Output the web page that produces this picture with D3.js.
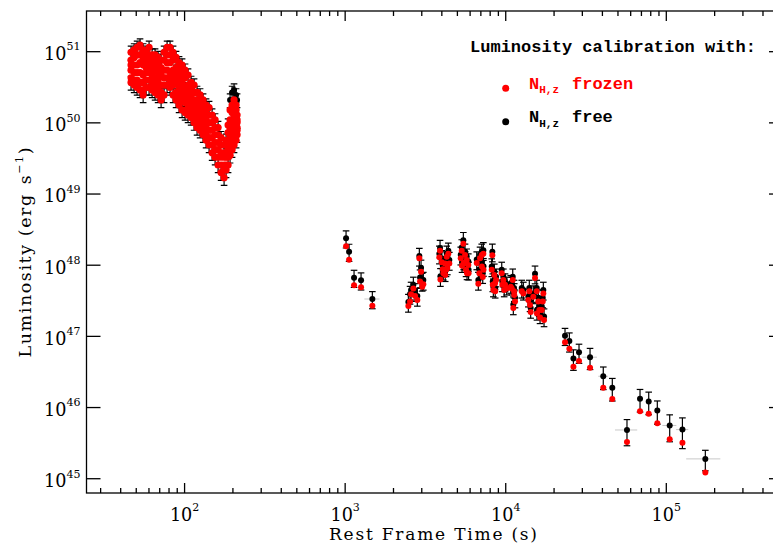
<!DOCTYPE html>
<html>
<head>
<meta charset="utf-8">
<script src="https://cdn.jsdelivr.net/npm/d3@7"></script>
<style>
  body { margin: 0; background: #fff; }
  svg { display: block; }
</style>
</head>
<body>
<svg id="chart" width="773" height="547"></svg>
<script>
// ---- data ----
// early steep decay + flare (one time per column, several luminosities)
const earlyTime = [46.4, 48.5, 50.6, 52.8, 55.2, 57.6, 60.1, 62.8, 65.5, 68.4, 71.4, 74.5, 77.8, 81.2, 84.8,
  88.5, 92.4, 96.5, 100.7, 105.1, 109.8, 114.6, 119.6, 124.9, 130.4, 136.1, 142.1, 148.4, 154.9, 161.7,
  168.8, 176.2, 181.3, 186.6, 192.0, 197.6, 203.3, 209.3, 212.3]
const earlyFrozen = [
  [9.8e50, 7.6e50, 6.5e50, 5.5e50, 4.3e50, 3.7e50],
  [1.06e51, 8.3e50, 6.5e50, 5.1e50, 4.0e50, 3.4e50],
  [1.15e51, 9.0e50, 6.5e50, 5.1e50, 4.0e50, 3.14e50],
  [1.24e51, 9.0e50, 7.0e50, 5.1e50, 3.7e50, 2.9e50],
  [1.06e51, 8.3e50, 6.5e50, 4.7e50, 3.7e50, 2.9e50, 2.47e50],
  [9.8e50, 7.6e50, 6.0e50, 5.1e50, 4.0e50, 3.14e50],
  [1.15e51, 9.0e50, 6.5e50, 5.1e50, 4.0e50, 3.14e50],
  [9.0e50, 7.6e50, 6.0e50, 4.7e50, 3.7e50, 2.9e50],
  [9.0e50, 7.0e50, 5.5e50, 4.3e50, 3.4e50, 2.68e50],
  [8.3e50, 6.5e50, 5.1e50, 4.0e50, 3.14e50, 2.47e50],
  [7.6e50, 6.0e50, 4.7e50, 3.4e50, 2.68e50, 2.1e50],
  [9.8e50, 7.6e50, 5.5e50, 4.3e50, 3.4e50, 2.47e50],
  [1.15e51, 9.0e50, 7.0e50, 5.5e50, 4.3e50, 3.4e50],
  [1.15e51, 9.0e50, 7.0e50, 5.1e50, 4.0e50, 3.14e50],
  [9.8e50, 7.6e50, 5.5e50, 4.3e50, 3.4e50, 2.47e50],
  [8.3e50, 6.0e50, 4.7e50, 3.7e50, 2.68e50, 2.1e50],
  [7.0e50, 5.5e50, 4.0e50, 3.14e50, 2.28e50, 1.78e50],
  [6.5e50, 4.7e50, 3.7e50, 2.68e50, 2.1e50, 1.52e50],
  [5.5e50, 4.3e50, 3.14e50, 2.47e50, 1.93e50, 1.40e50],
  [4.7e50, 3.4e50, 2.68e50, 2.1e50, 1.64e50, 1.29e50],
  [3.7e50, 2.9e50, 2.28e50, 1.93e50, 1.52e50, 1.19e50],
  [3.4e50, 2.68e50, 2.1e50, 1.64e50, 1.29e50, 1.01e50],
  [2.68e50, 2.1e50, 1.78e50, 1.40e50, 1.10e50, 8.6e49],
  [2.47e50, 1.93e50, 1.52e50, 1.19e50, 1.01e50, 7.9e49],
  [2.1e50, 1.64e50, 1.40e50, 1.10e50, 8.6e49, 6.8e49],
  [1.78e50, 1.52e50, 1.19e50, 9.3e49, 7.3e49, 5.7e49],
  [1.64e50, 1.29e50, 1.01e50, 7.9e49, 6.2e49, 4.9e49],
  [1.29e50, 1.01e50, 7.9e49, 6.2e49, 4.9e49, 3.8e49],
  [1.10e50, 8.6e49, 6.8e49, 5.3e49, 4.2e49, 3.3e49],
  [8.6e49, 6.8e49, 5.3e49, 4.2e49, 3.3e49, 2.56e49],
  [6.2e49, 4.9e49, 3.8e49, 3.3e49, 2.56e49, 2.0e49],
  [4.9e49, 3.8e49, 3.3e49, 2.56e49, 2.18e49, 1.7e49],
  [5.7e49, 4.9e49, 3.8e49, 3.3e49, 2.56e49, 2.18e49],
  [9.3e49, 7.3e49, 5.7e49, 4.2e49, 3.3e49, 2.56e49],
  [1.52e50, 1.10e50, 8.6e49, 6.2e49, 4.9e49, 3.5e49],
  [1.78e50, 1.40e50, 1.01e50, 7.3e49, 5.7e49, 4.2e49],
  [2.1e50, 1.52e50, 1.19e50, 8.6e49, 6.8e49, 4.9e49],
  [1.78e50, 1.52e50, 1.19e50, 9.3e49, 7.3e49, 5.7e49],
  [1.29e50, 1.10e50, 1.01e50, 8.6e49, 7.9e49, 6.8e49]
]
// free-N_H points of the early part: band top and bottom (mostly hidden under the red)
const earlyFree = [
  [9.8e50, 3.7e50], [1.06e51, 3.4e50], [1.15e51, 3.14e50], [1.24e51, 2.9e50],
  [1.06e51, 2.47e50], [9.8e50, 3.14e50], [1.15e51, 3.14e50], [9.0e50, 2.9e50],
  [9.0e50, 2.68e50], [8.3e50, 2.47e50], [7.6e50, 2.1e50], [9.8e50, 2.47e50],
  [1.15e51, 3.4e50], [1.15e51, 3.14e50], [9.8e50, 2.47e50], [8.3e50, 2.1e50],
  [7.0e50, 1.78e50], [6.5e50, 1.52e50], [5.5e50, 1.40e50], [4.7e50, 1.29e50],
  [3.7e50, 1.19e50], [3.4e50, 1.01e50], [2.68e50, 8.6e49], [2.47e50, 7.9e49],
  [2.1e50, 6.8e49], [1.78e50, 5.7e49], [1.64e50, 4.9e49], [1.29e50, 3.8e49],
  [1.10e50, 3.3e49], [8.6e49, 2.56e49], [6.2e49, 2.0e49], [4.9e49, 1.7e49],
  [5.7e49, 2.18e49], [9.3e49, 2.56e49], [2.1e50, 3.5e49], [2.68e50, 4.2e49],
  [2.9e50, 4.9e49], [2.47e50, 5.7e49], [2.1e50, 6.8e49]
]
const earlyErr = 0.22

// first points after the gap (~10^3 s)
const stepTime = [1013, 1058, 1136, 1256, 1477]
const stepTimeErr = [30, 30, 40, 40, 160]
const stepFree = [2.39e48, 1.55e48, 6.68e47, 6.14e47, 3.35e47]
const stepFrozen = [1.85e48, 1.19e48, 5.22e47, 4.89e47, 2.70e47]
const stepErr = 0.27

// flaring plateau 2.5e3 - 1.7e4 s
const flareTime = [2475, 2536, 2573, 2659, 2725, 2815, 2897, 2927, 2969, 3020, 3068,
  3860, 3899, 3920, 3995, 4053, 4088, 4188, 4200, 4249, 4291, 4328, 4391, 4454,
  5246, 5321, 5344, 5445, 5470, 5579, 5600, 5659, 5716, 5740, 5848, 5870,
  6598, 6751, 6849, 6918, 7089, 7100, 7192, 7254, 7270,
  8181, 8253, 8301, 8372, 8492, 8578, 8600, 8702,
  9443, 9524, 9663, 9780, 9900, 10144,
  10743, 10899, 11056, 11151, 11264, 11300, 11427,
  12580, 12873,
  13824, 14023, 14166, 14300, 14852, 15219, 15596, 15650, 15959, 16189, 16354, 16760, 17001, 17148, 17322]
const flareFrozen = [2.67e47, 3.1e47, 3.9e47, 4.7e47, 3.7e47, 3.24e47, 1.25e48, 5.9e47, 8.1e47, 5.0e47, 5.4e47,
  1.29e48, 1.60e48, 6.3e47, 1.10e48, 8.8e47, 7.7e47, 1.06e48, 7.3e47, 8.6e47, 1.31e48, 9.1e47, 1.45e48, 1.06e48,
  1.25e48, 1.60e48, 9.8e47, 2.0e48, 1.07e48, 1.39e48, 1.07e48, 8.6e47, 1.18e48, 7.7e47, 1.01e48, 7.7e47,
  1.07e48, 5.5e47, 7.7e47, 1.25e48, 1.39e48, 9.6e47, 6.8e47, 1.45e48, 8.6e47,
  8.6e47, 1.38e48, 5.3e47, 4.5e47, 7.3e47, 5.6e47, 4.3e47, 6.2e47,
  7.7e47, 5.3e47, 6.2e47, 4.5e47, 5.3e47, 4.7e47,
  5.0e47, 4.7e47, 6.2e47, 2.5e47, 4.3e47, 3.8e47, 3.1e47,
  4.3e47, 4.0e47,
  3.24e47, 4.3e47, 2.76e47, 2.2e47, 3.6e47, 6.6e47, 4.3e47, 2.1e47, 3.1e47, 2.35e47, 1.84e47, 2.35e47, 3.1e47, 4.0e47, 1.70e47]
const flareFree = [3.04e47, 3.94e47, 4.5e47, 5.3e47, 4.3e47, 3.69e47, 1.35e48, 6.7e47, 9.2e47, 6.0e47, 6.2e47,
  1.45e48, 1.75e48, 7.0e47, 1.25e48, 9.9e47, 8.6e47, 1.20e48, 8.2e47, 9.6e47, 1.45e48, 1.02e48, 1.60e48, 1.18e48,
  1.40e48, 1.78e48, 1.10e48, 2.25e48, 1.20e48, 1.55e48, 1.20e48, 9.6e47, 1.32e48, 8.7e47, 1.13e48, 8.6e47,
  1.2e48, 6.2e47, 8.7e47, 1.40e48, 1.55e48, 1.08e48, 7.7e47, 1.62e48, 9.7e47,
  9.6e47, 1.55e48, 5.9e47, 5.0e47, 8.1e47, 6.3e47, 4.8e47, 6.9e47,
  8.6e47, 5.9e47, 6.9e47, 5.0e47, 5.9e47, 5.3e47,
  5.6e47, 5.3e47, 6.9e47, 2.8e47, 4.8e47, 4.3e47, 3.5e47,
  4.8e47, 4.5e47,
  3.6e47, 4.8e47, 3.1e47, 2.5e47, 4.0e47, 7.6e47, 4.8e47, 2.35e47, 3.5e47, 2.65e47, 2.1e47, 2.65e47, 3.5e47, 4.5e47, 1.9e47]
const flareErr = 0.28

// late decay
const lateTime = [23400, 24900, 26400, 28600, 33500, 40500, 46100, 56900, 68600, 77700, 87900, 105000, 126000, 175000]
const lateTimeErr = [500, 500, 600, 800, 3500, 2800, 1000, 9000, 1500, 1500, 2000, 10500, 11000, 42000]
const lateFree = [1.02e47, 8.6e46, 4.9e46, 5.97e46, 5.1e46, 2.75e46, 1.9e46, 4.84e45, 1.33e46, 1.22e46, 9.1e45, 5.6e45, 4.9e45, 1.9e45]
const lateFrozen = [8.3e46, 6.7e46, 3.75e46, 4.5e46, 3.63e46, 1.9e46, 1.32e46, 3.28e45, 8.9e45, 8.2e45, 6.0e45, 3.6e45, 3.2e45, 1.22e45]
const lateErr = [0.27, 0.3, 0.32, 0.3, 0.33, 0.35, 0.35, 0.4, 0.35, 0.35, 0.36, 0.41, 0.46, 0.32]

const xMajor = [1e2, 1e3, 1e4, 1e5]
const xMajorExp = ['2', '3', '4', '5']
const yMajor = [1e45, 1e46, 1e47, 1e48, 1e49, 1e50, 1e51]
const yMajorExp = ['45', '46', '47', '48', '49', '50', '51']

// ---- build point lists ----
var free = [], frozen = []
earlyTime.forEach(function (t, i) {
  earlyFree[i].forEach(function (v) { free.push({ t: t, v: v, e: earlyErr, te: 0 }) })
  earlyFrozen[i].forEach(function (v) { frozen.push({ t: t, v: v, dense: true }) })
})
stepTime.forEach(function (t, i) {
  free.push({ t: t, v: stepFree[i], e: stepErr, te: stepTimeErr[i] })
  frozen.push({ t: t, v: stepFrozen[i] })
})
flareTime.forEach(function (t, i) {
  free.push({ t: t, v: flareFree[i], e: flareErr, te: 0 })
  frozen.push({ t: t, v: flareFrozen[i] })
})
lateTime.forEach(function (t, i) {
  free.push({ t: t, v: lateFree[i], e: lateErr[i], te: lateTimeErr[i] })
  frozen.push({ t: t, v: lateFrozen[i] })
})

var svg = d3.select('#chart')
var pLeft = 86.5, pRight = 783, pTop = 11, pBottom = 493

var x = d3.scaleLog().domain([24.5, 5.33e5]).range([pLeft, pRight])
var y = d3.scaleLog().domain([6.3e44, 3.73e51]).range([pBottom, pTop])

svg.append('defs').append('clipPath').attr('id', 'plotclip')
  .append('rect').attr('x', pLeft).attr('y', pTop).attr('width', pRight - pLeft).attr('height', pBottom - pTop)

var plot = svg.append('g').attr('clip-path', 'url(#plotclip)')

// horizontal (time) error bars
plot.append('g').selectAll('line')
  .data(free.filter(function (d) { return d.te > 0 }))
  .enter().append('line')
  .attr('x1', function (d) { return x(d.t - d.te) })
  .attr('x2', function (d) { return x(d.t + d.te) })
  .attr('y1', function (d) { return y(d.v) })
  .attr('y2', function (d) { return y(d.v) })
  .attr('stroke', '#c8c8c8').attr('stroke-width', 1)

// vertical error bars with caps
var eb = plot.append('g').attr('stroke', '#000').attr('stroke-width', 1.2)
free.forEach(function (d) {
  var cx = x(d.t), y1 = y(d.v * (1 + d.e)), y2 = y(d.v * (1 - d.e))
  eb.append('line').attr('x1', cx).attr('x2', cx).attr('y1', y1).attr('y2', y2)
  eb.append('line').attr('x1', cx - 3.3).attr('x2', cx + 3.3).attr('y1', y1).attr('y2', y1)
  eb.append('line').attr('x1', cx - 3.3).attr('x2', cx + 3.3).attr('y1', y2).attr('y2', y2)
})

plot.append('g').selectAll('circle')
  .data(free).enter().append('circle')
  .attr('cx', function (d) { return x(d.t) })
  .attr('cy', function (d) { return y(d.v) })
  .attr('r', 3).attr('fill', '#000')

// the early band is many overlapping points: draw them a touch larger so it reads solid
plot.append('g').selectAll('circle')
  .data(frozen).enter().append('circle')
  .attr('cx', function (d) { return x(d.t) })
  .attr('cy', function (d) { return y(d.v) })
  .attr('r', function (d) { return d.dense ? 3.6 : 3 })
  .attr('fill', '#ff0000')

// ---- frame and ticks ----
var axes = svg.append('g').attr('stroke', '#000').attr('stroke-width', 1.3)
axes.append('rect').attr('x', pLeft).attr('y', pTop).attr('width', pRight - pLeft).attr('height', pBottom - pTop)
  .attr('fill', 'none')

var xMinor = []
;[10, 100, 1000, 1e4, 1e5].forEach(function (dec) {
  for (var k = 2; k <= 9; k++) {
    var v = k * dec
    if (v > x.domain()[0] && v < x.domain()[1]) xMinor.push(v)
  }
})
xMajor.forEach(function (v) {
  axes.append('line').attr('x1', x(v)).attr('x2', x(v)).attr('y1', pBottom).attr('y2', pBottom - 10)
  axes.append('line').attr('x1', x(v)).attr('x2', x(v)).attr('y1', pTop).attr('y2', pTop + 10)
})
xMinor.forEach(function (v) {
  axes.append('line').attr('x1', x(v)).attr('x2', x(v)).attr('y1', pBottom).attr('y2', pBottom - 5)
  axes.append('line').attr('x1', x(v)).attr('x2', x(v)).attr('y1', pTop).attr('y2', pTop + 5)
})
yMajor.forEach(function (v) {
  axes.append('line').attr('x1', pLeft).attr('x2', pLeft + 14).attr('y1', y(v)).attr('y2', y(v))
  axes.append('line').attr('x1', pRight).attr('x2', pRight - 14).attr('y1', y(v)).attr('y2', y(v))
})

// ---- tick labels ----
var serif = 'DejaVu Serif, serif'
xMajor.forEach(function (v, i) {
  var t = svg.append('text').attr('x', x(v)).attr('y', 521)
    .attr('text-anchor', 'middle').attr('font-family', serif).attr('font-size', 17.6)
  t.append('tspan').text('10')
  t.append('tspan').attr('font-size', 11).attr('dy', -10.5).text(xMajorExp[i])
})
yMajor.forEach(function (v, i) {
  var t = svg.append('text').attr('x', 80.5).attr('y', y(v) + 8.3)
    .attr('text-anchor', 'end').attr('font-family', serif).attr('font-size', 17.6)
  t.append('tspan').text('10')
  t.append('tspan').attr('font-size', 11).attr('dy', -9.5).text(yMajorExp[i])
})

// ---- axis titles ----
svg.append('text').attr('x', 433).attr('y', 540)
  .attr('text-anchor', 'middle').attr('font-family', serif).attr('font-size', 17)
  .attr('textLength', 208).attr('lengthAdjust', 'spacing')
  .text('Rest Frame Time (s)')

var yt = svg.append('text').attr('transform', 'translate(31,252.5) rotate(-90)')
  .attr('text-anchor', 'middle').attr('font-family', serif).attr('font-size', 17.5)
  .attr('textLength', 210).attr('lengthAdjust', 'spacing')
yt.append('tspan').text('Luminosity (erg')
yt.append('tspan').attr('dx', 9).text('s')
yt.append('tspan').attr('font-size', 11).attr('dy', -8).text('\u22121')
yt.append('tspan').attr('dy', 8).text(')')

// ---- legend ----
var mono = 'Liberation Mono, monospace'
svg.append('text').attr('x', 470).attr('y', 52.3)
  .attr('font-family', mono).attr('font-weight', 'bold').attr('font-size', 17)
  .attr('textLength', 286).attr('lengthAdjust', 'spacing')
  .text('Luminosity calibration with:')

var legendItems = [
  { color: '#ff0000', label: 'frozen', cy: 88.3, base: 89 },
  { color: '#000', label: 'free', cy: 121.7, base: 122.3 }
]
legendItems.forEach(function (d) {
  svg.append('circle').attr('cx', 505.7).attr('cy', d.cy).attr('r', 3.5).attr('fill', d.color)
  var t = svg.append('text').attr('x', 529).attr('y', d.base)
    .attr('font-family', mono).attr('font-weight', 'bold').attr('font-size', 17).attr('fill', d.color)
  t.append('tspan').text('N')
  t.append('tspan').attr('font-size', 11).attr('dy', 4.3).text('H,z')
  t.append('tspan').attr('x', 572).attr('y', d.base).text(d.label)
})
</script>
</body>
</html>
